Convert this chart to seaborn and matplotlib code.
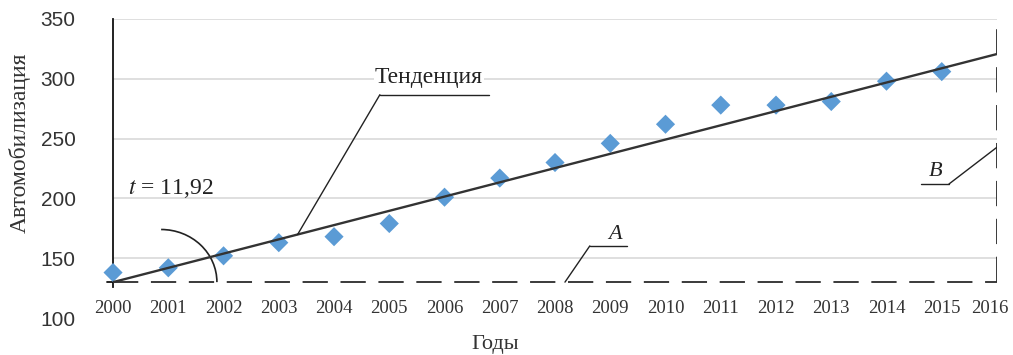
import numpy as np
import pandas as pd
import matplotlib
matplotlib.use("Agg")
import matplotlib.pyplot as plt
from matplotlib.patches import Arc
from matplotlib.transforms import ScaledTranslation
import seaborn as sns

# Motorization level by year
years = [2000, 2001, 2002, 2003, 2004, 2005, 2006, 2007,
         2008, 2009, 2010, 2011, 2012, 2013, 2014, 2015]
motorization = [138, 142, 152, 163, 168, 179, 201, 217,
                230, 246, 262, 278, 278, 281, 298, 306]

# Linear trend: start level and yearly slope (t)
trend_start = 130
trend_slope = 11.92
trend_years = [2000, 2016]

year_ticks = list(range(2000, 2017))
value_ticks = [100, 150, 200, 250, 300, 350]
grid_levels = [150, 200, 250, 300, 350]

sns.set_theme(style="white")
plt.rcParams["font.family"] = ["Liberation Serif", "DejaVu Serif"]

fig = plt.figure(figsize=(10.13, 3.55), dpi=100)
ax = fig.add_axes([0.1116, 0.1042, 0.8726, 0.8423])

df = pd.DataFrame({"Годы": years, "Автомобилизация": motorization})
trend_df = pd.DataFrame({
    "Годы": trend_years,
    "Автомобилизация": [trend_start + trend_slope * (y - trend_years[0]) for y in trend_years],
})

# horizontal grid
ax.hlines(grid_levels, year_ticks[0], year_ticks[-1], color="#d9d9d9", lw=1.2, zorder=0)

# reference lines A (base level) and B (final year)
dash = (0, (14, 7))
ax.plot([year_ticks[0], year_ticks[-1]], [trend_start, trend_start],
        color="#2b2b2b", lw=1.3, linestyle=dash, zorder=1)
ax.plot([year_ticks[-1], year_ticks[-1]], [trend_start, value_ticks[-1]],
        color="#2b2b2b", lw=1.3, linestyle=dash, zorder=1)

sns.scatterplot(data=df, x="Годы", y="Автомобилизация", marker="D", s=95,
                color="#5b9bd5", edgecolor="none", ax=ax, zorder=3, clip_on=False)
sns.lineplot(data=trend_df, x="Годы", y="Автомобилизация", color="#333333",
             lw=1.7, ax=ax, zorder=4)

ax.set_xlim(year_ticks[0], year_ticks[-1])
ax.set_ylim(value_ticks[0], value_ticks[-1])

# axes: left spine solid, bottom spine moved to the base level
for s in ["top", "right"]:
    ax.spines[s].set_visible(False)
ax.spines["bottom"].set_position(("data", trend_start))
ax.spines["bottom"].set_visible(False)
ax.spines["left"].set_color("#111111")
ax.spines["left"].set_linewidth(1.3)
ax.spines["left"].set_bounds(126, value_ticks[-1])
ax.plot([-0.007, 0], [trend_start, trend_start], color="#111111", lw=1.3,
        transform=ax.get_yaxis_transform(), clip_on=False)

ax.set_xticks(year_ticks)
ax.set_xticklabels([str(y) for y in year_ticks], fontsize=13.5, color="#333333")
ax.tick_params(axis="x", length=0, pad=13)
# nudge the last year label so it stays inside the figure
last = ax.xaxis.get_major_ticks()[-1].label1
last.set_transform(last.get_transform() + ScaledTranslation(-5 / 72, 0, fig.dpi_scale_trans))
ax.set_yticks(value_ticks)
ax.set_yticklabels([str(v) for v in value_ticks], fontsize=15, color="#333333",
                   family=["Liberation Sans", "DejaVu Sans"])
ax.tick_params(axis="y", length=0, pad=27)

ax.set_xlabel("Годы", fontsize=16, color="#333333")
ax.xaxis.set_label_coords(0.432, -0.09)
ax.xaxis.label.set_va("center")
ax.set_ylabel("Автомобилизация", fontsize=17, color="#333333")
ax.yaxis.set_label_coords(-0.105, 0.585)
ax.yaxis.label.set_va("center")

# slope angle arc and label
ax.add_patch(Arc((2000.87, trend_start), 2.02, 88, theta1=0, theta2=90,
                 color="#222222", lw=1.2, zorder=2))
ax.text(2000.27, 208, r"$t$ = 11,92", fontsize=17, ha="left", va="center",
        color="#222222", math_fontfamily="stix")

# callouts
def callout(text, tx, ty, x0, x1, uy, px, py, italic=False, ul_from_left=True):
    ax.text(tx, ty, text, fontsize=17 if not italic else 16, ha="center", va="center",
            color="#222222", style="italic" if italic else "normal", zorder=5,
            bbox=dict(facecolor="white", edgecolor="none", pad=0.5) if not italic else None)
    ax.plot([x0, x1], [uy, uy], color="#222222", lw=1.0, zorder=5)
    start = x0 if ul_from_left else x1
    ax.plot([start, px], [uy, py], color="#222222", lw=1.0, zorder=5)

callout("Тенденция", 2005.72, 301, 2004.83, 2006.81, 286.7, 2003.34, 169.8)
callout("A", 2009.09, 170, 2008.63, 2009.30, 160.3, 2008.18, trend_start, italic=True)
callout("B", 2014.88, 222.5, 2014.62, 2015.13, 212, 2016, 242.8, italic=True,
        ul_from_left=False)

fig.savefig("out.png", dpi=100)
